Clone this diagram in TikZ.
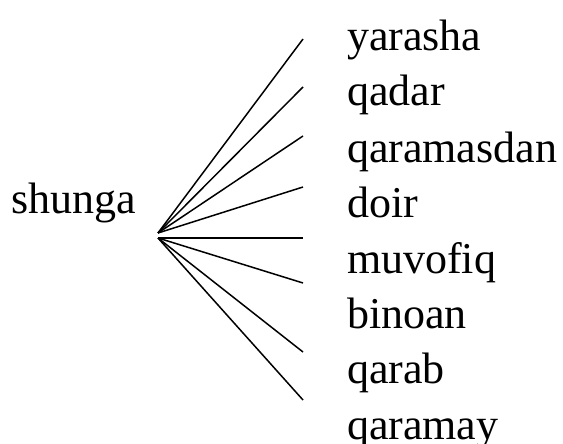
\documentclass[tikz,border=0pt]{standalone}
\usepackage{fontspec}
\setmainfont{Liberation Serif}
\begin{document}
\begin{tikzpicture}[x=1pt,y=-1pt,
  lbl/.style={anchor=base west,inner sep=0pt,outer sep=0pt,font=\fontsize{44}{44}\selectfont},
  ray/.style={line width=1.5pt,line cap=butt}]
\useasboundingbox (0,0) rectangle (563,444);
\node[lbl] (root) at (11,213) {shunga};
\coordinate (ou) at (158,233);
\coordinate (ol) at (158,238);
\foreach \i/\y/\t/\ey in {1/51/yarasha/39,2/106/qadar/87,3/162/qaramasdan/136,4/217/doir/187,5/273/muvofiq/238,6/328/binoan/283,7/383/qarab/352,8/439/qaramay/400}{
  \node[lbl] (w\i) at (347,\y) {\t};
  \coordinate (e\i) at (303,\ey);
}
\foreach \i in {1,2,3,4}{\draw[ray] (ou) -- (e\i);}
\foreach \i in {5,6,7,8}{\draw[ray] (ol) -- (e\i);}
\end{tikzpicture}
\end{document}
